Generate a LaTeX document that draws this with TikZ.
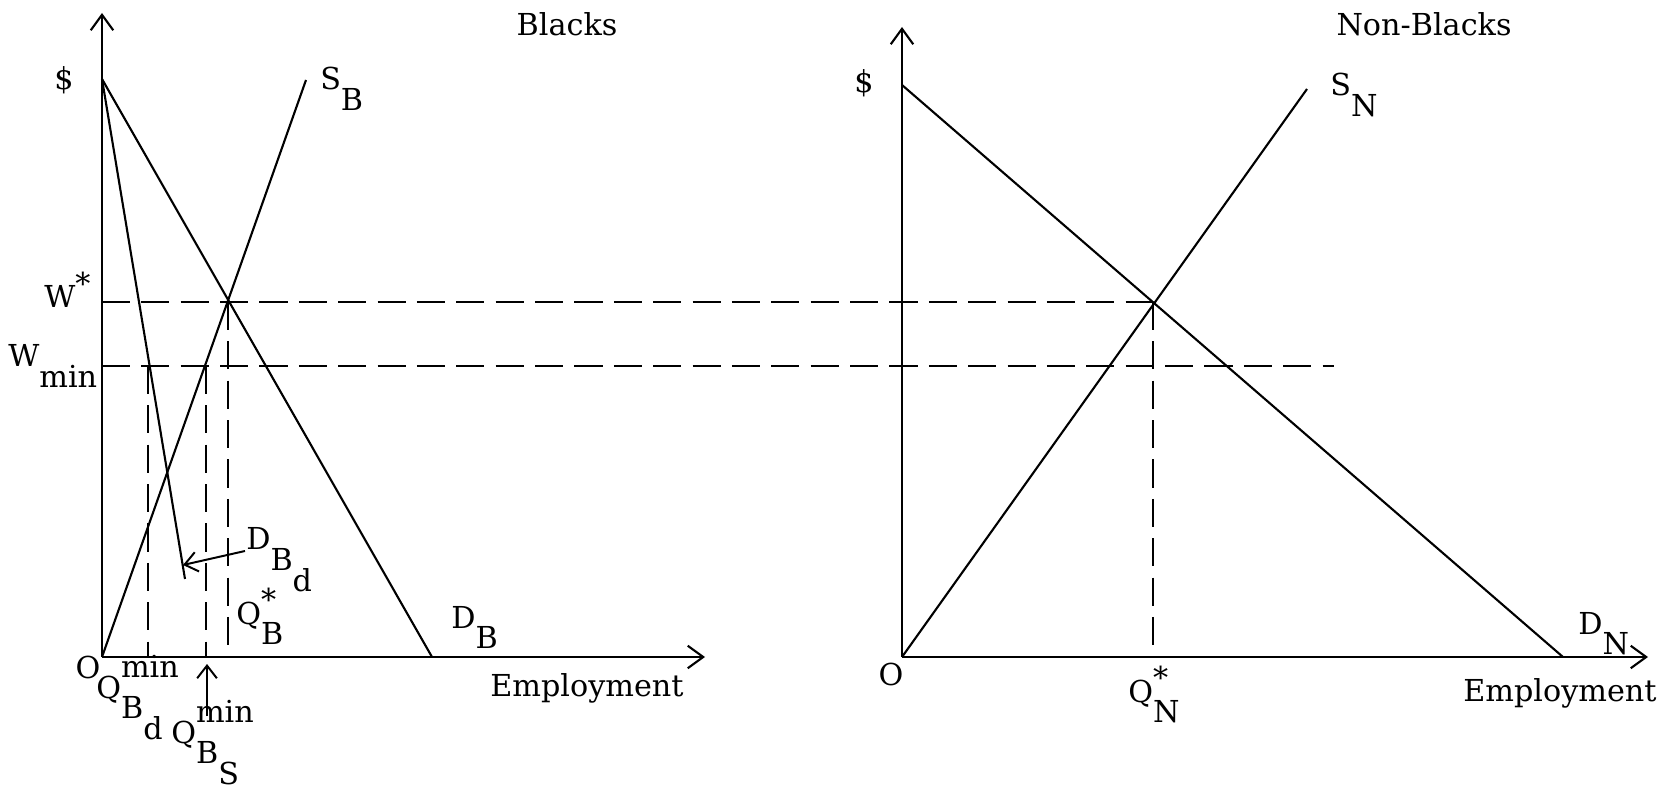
\documentclass[tikz,border=0pt]{standalone}
\usepackage{fontspec}
\setmainfont{DejaVu Serif}
\usetikzlibrary{arrows.meta}
\newcommand{\lowr}[1]{\raisebox{-0.68em}{#1}}
\newcommand{\hstar}[1]{\raisebox{0.45em}{#1}}
\newcommand{\hmin}[1]{\raisebox{0.68em}{#1}}
\begin{document}
\begin{tikzpicture}[x=0.025cm,y=-0.025cm,
  font=\fontsize{21.5}{25}\selectfont,
  axis/.style={line width=1.5pt,-{Straight Barb[length=11pt,width=16pt,line width=1.5pt]}},
  curve/.style={line width=1.5pt},
  guide/.style={line width=1.4pt,dash pattern=on 20pt off 8pt},
  pointer/.style={line width=1.4pt,-{Straight Barb[length=9pt,width=14pt,line width=1.4pt]}},
  lbl/.style={anchor=base west,inner sep=0pt},
  txt/.style={anchor=center,inner sep=0pt}]
\useasboundingbox (0,0) rectangle (1673,793);
% ---------- Blacks panel ----------
\coordinate (OB) at (102,657);
\coordinate (YBtop) at (102,13);
\coordinate (XBend) at (705,657);
\coordinate (DBtop) at (102,79);
\coordinate (SBend) at (306,80);
\coordinate (DBend) at (432,657);
\coordinate (DBdend) at (185,579);
\coordinate (EB) at (228,302);
\coordinate (WsL) at (102,302);
\coordinate (WmL) at (102,366);
\coordinate (WmR) at (1334,366);
\coordinate (QdT) at (148,366);
\coordinate (QdB) at (148,657);
\coordinate (QsT) at (206,366);
\coordinate (QsB) at (206,657);
\coordinate (QbB) at (228,657);
% ---------- Non-Blacks panel ----------
\coordinate (ON) at (902,657);
\coordinate (YNtop) at (902,27);
\coordinate (XNend) at (1648,657);
\coordinate (DNtop) at (902,85);
\coordinate (DNend) at (1563,657);
\coordinate (SNend) at (1307,89);
\coordinate (EN) at (1153,302);
\coordinate (QnB) at (1153,657);

% axes
\draw[axis] (OB) -- (YBtop);
\draw[axis] (OB) -- (XBend);
\draw[axis] (ON) -- (YNtop);
\draw[axis] (ON) -- (XNend);
% curves
\draw[curve] (OB) -- (SBend);
\draw[curve] (DBtop) -- (DBend);
\draw[curve] (DBtop) -- (DBdend);
\draw[curve] (ON) -- (SNend);
\draw[curve] (DNtop) -- (DNend);
% guides
\draw[guide] (WsL) -- (EN);
\draw[guide] (WmL) -- (WmR);
\draw[guide] (QdT) -- (QdB);
\draw[guide] (QsT) -- (QsB);
\draw[guide] (EB) -- (QbB);
\draw[guide] (EN) -- (QnB);

% labels Blacks
\node[txt] (tB) at (567,24) {Blacks};
\node[txt] (dolB) at (64,80) {\$};
\node[txt] (oB) at (88,667) {O};
\node[lbl] (sB) at (320,90) {S\lowr{B}};
\node[lbl] (dB) at (451,628) {D\lowr{B}};
\node[lbl] (dBd) at (246,550) {D\lowr{B\lowr{d}}};
\node[lbl] (qBs) at (236,624) {Q\rlap{\hstar{*}}\lowr{B}};
\node[lbl] (ws) at (44,308) {W\hstar{*}};
\node[lbl] (wm) at (8,367) {W\lowr{min}};
\node[lbl] (qBd) at (96,698) {Q\rlap{\hmin{min}}\lowr{B\lowr{d}}};
\node[lbl] (qBS) at (171,743) {Q\rlap{\hmin{min}}\lowr{B\lowr{S}}};
\node[txt] (empB) at (587,688) {Employment};
\coordinate (pDs) at (245,551);
\coordinate (pDe) at (183,565);
\draw[pointer] (pDs) -- (pDe);
\coordinate (pQs) at (207,716);
\coordinate (pQe) at (207,664);
\draw[pointer] (pQs) -- (pQe);

% labels Non-Blacks
\node[txt] (tN) at (1424,24) {Non-Blacks};
\node[txt] (dolN) at (864,83) {\$};
\node[txt] (oN) at (891,674) {O};
\node[lbl] (sN) at (1330,96) {S\lowr{N}};
\node[lbl] (dN) at (1578,634) {D\lowr{N}};
\node[lbl] (qN) at (1128,702) {Q\rlap{\hstar{*}}\lowr{N}};
\node[txt] (empN) at (1560,693) {Employment};
\end{tikzpicture}
\end{document}
